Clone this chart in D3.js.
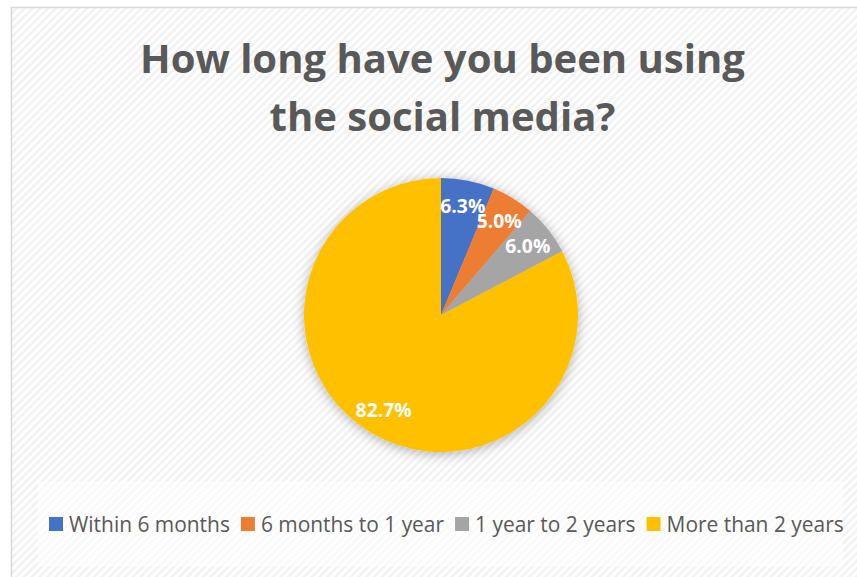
<!DOCTYPE html>
<html>
<head>
<meta charset="utf-8">
<script src="https://cdn.jsdelivr.net/npm/d3@7"></script>
<style>
  html, body { margin: 0; padding: 0; background: #fff; }
  svg { display: block; }
</style>
</head>
<body>
<svg id="chart" width="857" height="577"></svg>
<script>
// Survey answers: how long respondents have used social media (percent)
const categories = ["Within 6 months", "6 months to 1 year", "1 year to 2 years", "More than 2 years"];
const shares = [6.3, 5.0, 6.0, 82.7];
const sliceColors = ["#4472C4", "#ED7D31", "#A5A5A5", "#FFC000"];
const titleLines = ["How long have you been using", "the social media?"];

const svg = d3.select("#chart");
const W = 857, H = 577;
const defs = svg.append("defs");

// diagonal hatch used for the chart area fill
const hatch = defs.append("pattern")
  .attr("id", "hatch")
  .attr("patternUnits", "userSpaceOnUse")
  .attr("width", 5.5).attr("height", 5.5)
  .attr("patternTransform", "rotate(45)");
hatch.append("rect").attr("width", 5.5).attr("height", 5.5).attr("fill", "#ffffff");
hatch.append("rect").attr("width", 2.75).attr("height", 5.5).attr("fill", "#f2f2f2");

// soft shadow around the pie
const shadow = defs.append("filter").attr("id", "pieShadow")
  .attr("x", "-20%").attr("y", "-20%").attr("width", "140%").attr("height", "140%");
shadow.append("feDropShadow")
  .attr("dx", 0).attr("dy", 2).attr("stdDeviation", 6)
  .attr("flood-color", "#000").attr("flood-opacity", 0.3);

// chart area with its frame
svg.append("rect")
  .attr("x", 11.5).attr("y", 7.5)
  .attr("width", W + 10).attr("height", H + 10)
  .attr("fill", "url(#hatch)")
  .attr("stroke", "#d9d9d9").attr("stroke-width", 1.5);

// title, sized to its measured width
const titleG = svg.append("g");
const titleBase = [73, 131];
const titleTexts = titleG.selectAll("text").data(titleLines).join("text")
  .attr("x", 442.5).attr("y", (d, i) => titleBase[i])
  .attr("text-anchor", "middle")
  .attr("font-family", "'Open Sans', sans-serif")
  .attr("font-weight", 700)
  .attr("font-size", 40)
  .attr("fill", "#595959")
  .text(d => d);
{
  const w = titleTexts.nodes()[0].getComputedTextLength();
  const fs = 40 * 605 / w;
  titleTexts.attr("font-size", fs);
}

// pie
const cx = 441, cy = 315, R = 137;
const pie = d3.pie().sort(null).value(d => d)(shares);
const arc = d3.arc().innerRadius(0).outerRadius(R);
const labelArc = d3.arc().innerRadius(R * 0.81).outerRadius(R * 0.81);

const pieG = svg.append("g").attr("transform", `translate(${cx},${cy})`);
pieG.append("g").attr("filter", "url(#pieShadow)")
  .selectAll("path").data(pie).join("path")
  .attr("d", arc)
  .attr("fill", (d, i) => sliceColors[i]);

const labels = pieG.selectAll("text.lbl").data(pie).join("text")
  .attr("class", "lbl")
  .attr("transform", d => {
    const [x, y] = labelArc.centroid(d);
    return `translate(${x},${y + 7})`;
  })
  .attr("text-anchor", "middle")
  .attr("font-family", "'Open Sans', sans-serif")
  .attr("font-weight", 700)
  .attr("font-size", 18)
  .attr("fill", "#ffffff")
  .text(d => d.data.toFixed(1) + "%");
{
  const w = labels.nodes()[0].getComputedTextLength();
  labels.attr("font-size", 18 * 45 / w);
}

// legend box and entries
svg.append("rect")
  .attr("x", 38).attr("y", 481)
  .attr("width", 805).attr("height", 86)
  .attr("fill", "#ffffff").attr("fill-opacity", 0.6);

const legendG = svg.append("g");
const legItems = legendG.selectAll("g").data(categories).join("g");
legItems.append("rect")
  .attr("width", 14).attr("height", 14)
  .attr("fill", (d, i) => sliceColors[i]);
const legTexts = legItems.append("text")
  .attr("x", 20).attr("y", 14.5)
  .attr("font-family", "'Open Sans', sans-serif")
  .attr("font-size", 18)
  .attr("fill", "#595959")
  .text(d => d);
{
  const w0 = legTexts.nodes()[0].getComputedTextLength();
  const fs = 18 * 161 / w0;
  legTexts.attr("font-size", fs);
  let x = 49;
  legItems.each(function (d, i) {
    d3.select(this).attr("transform", `translate(${x},517)`);
    x += 20 + legTexts.nodes()[i].getComputedTextLength() + 11;
  });
}
</script>
</body>
</html>
